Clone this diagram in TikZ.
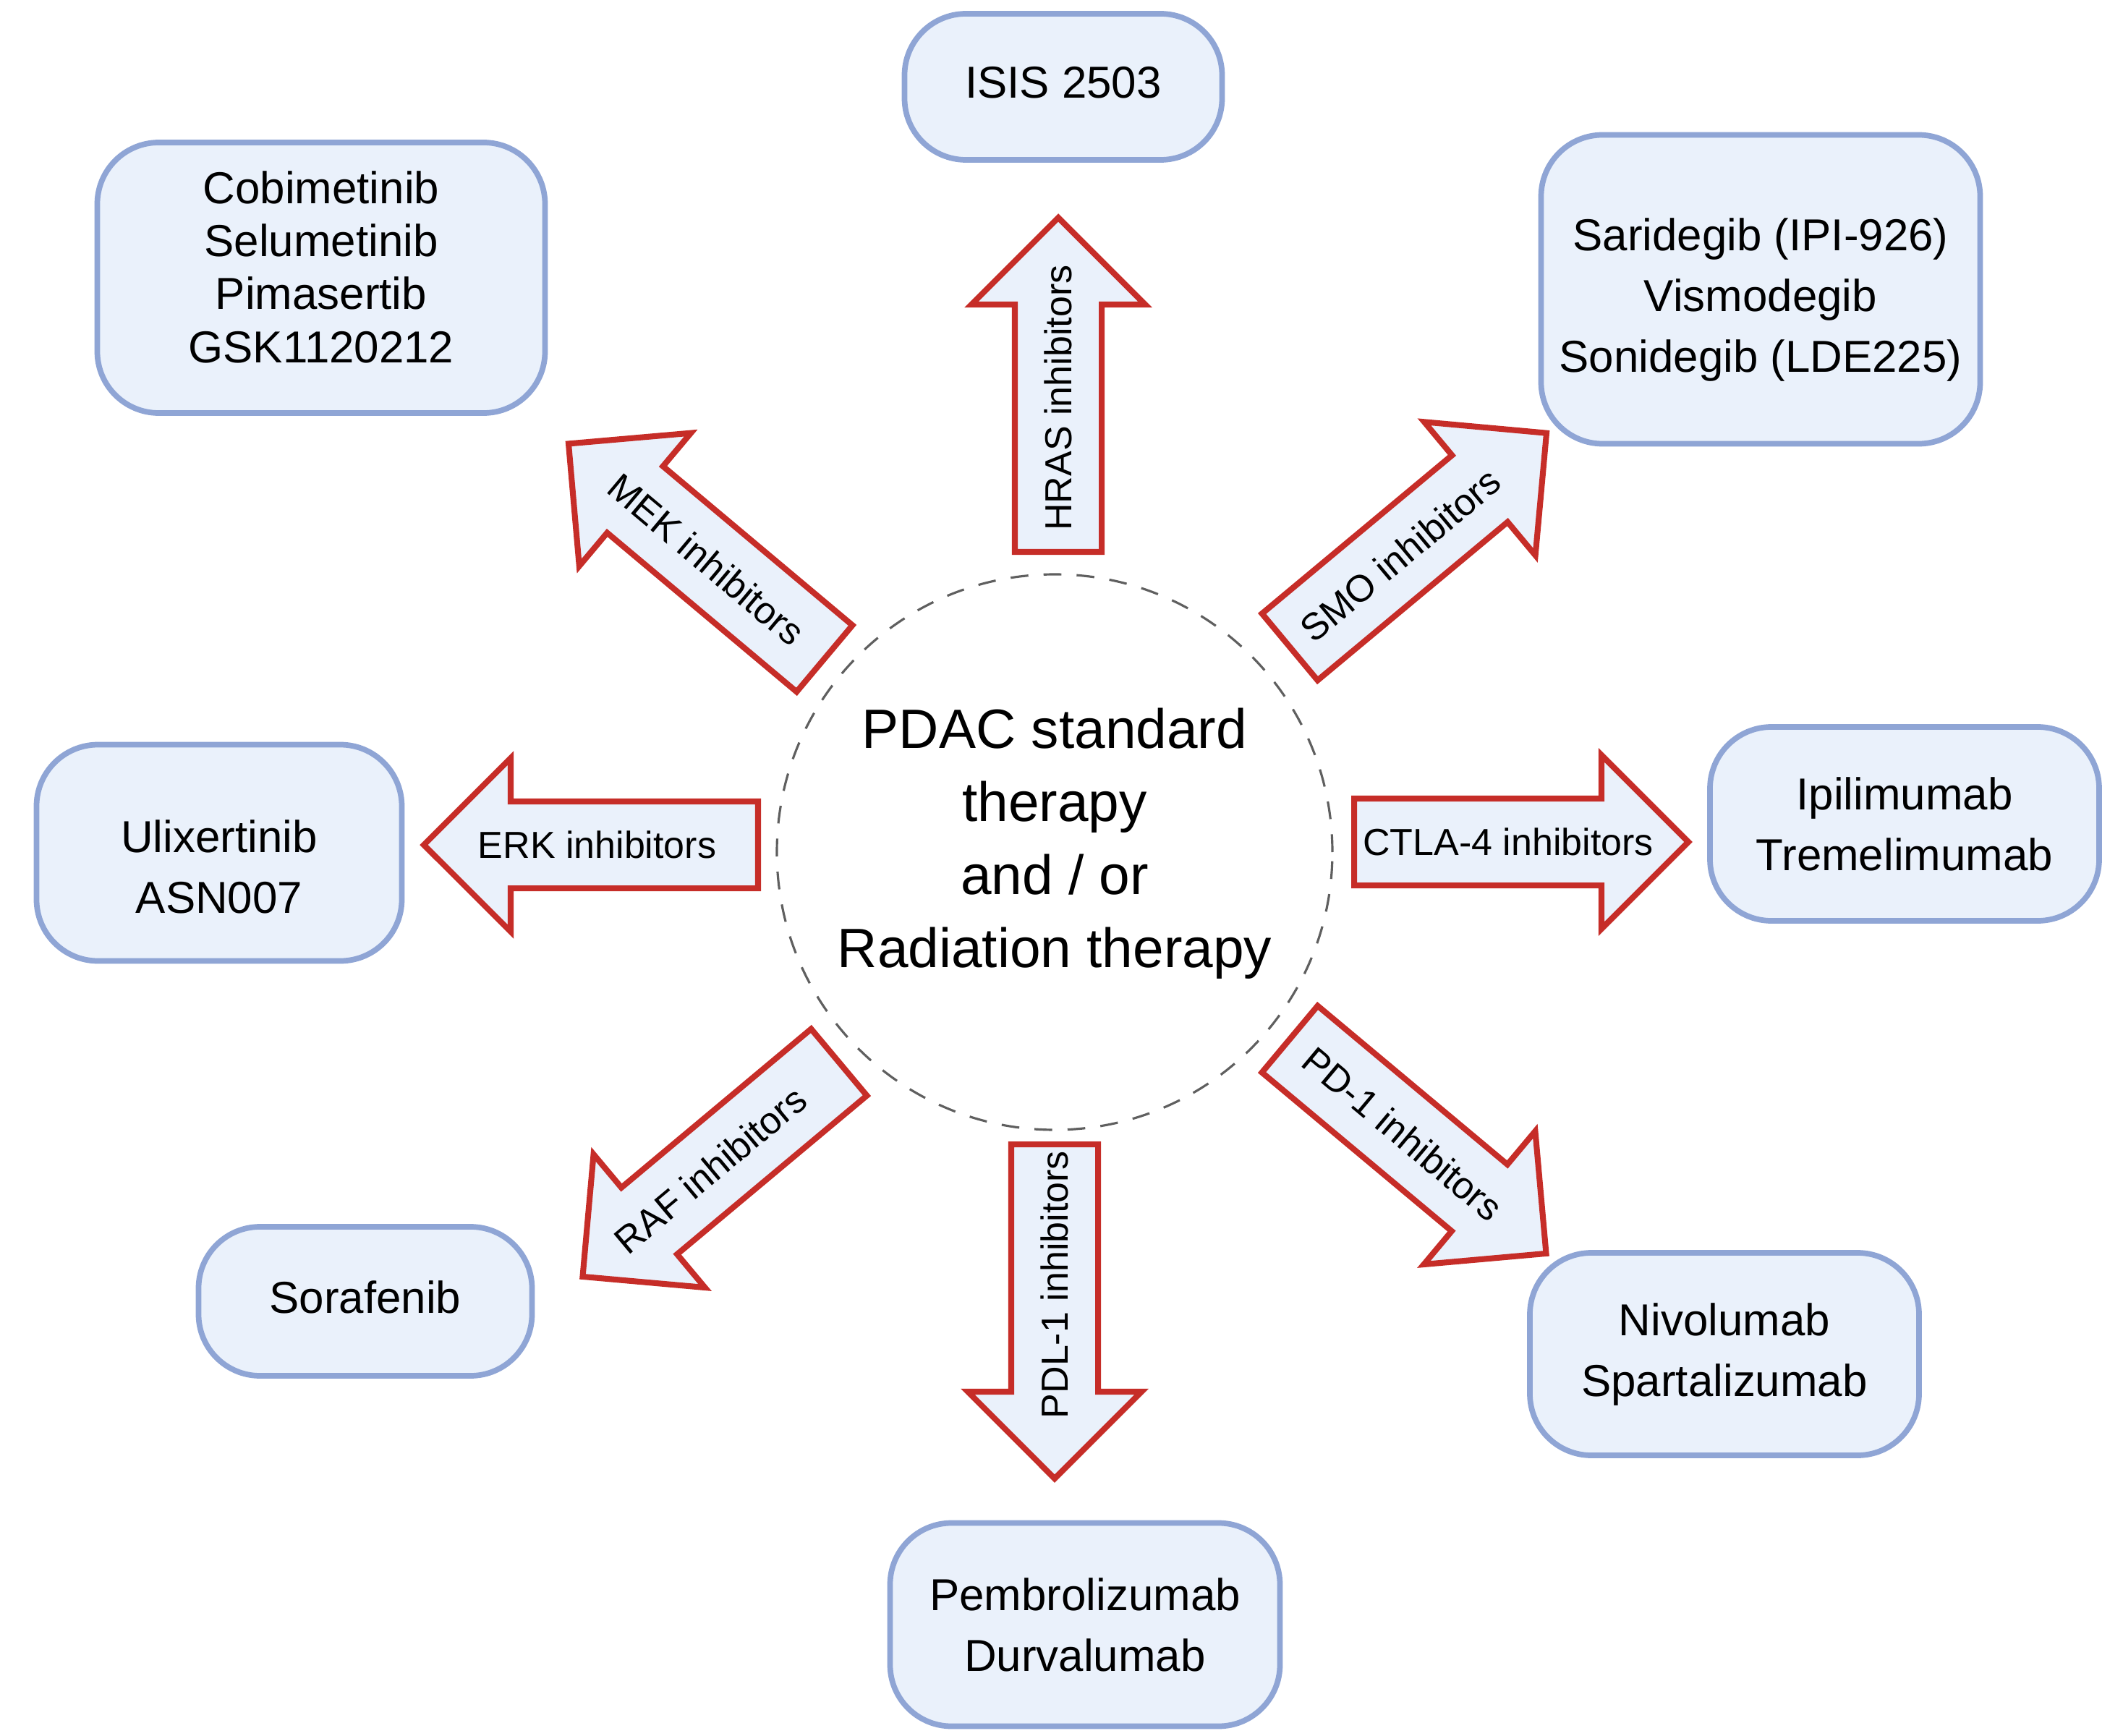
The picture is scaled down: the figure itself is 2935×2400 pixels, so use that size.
\documentclass[tikz,border=0pt]{standalone}
\usepackage{xcolor}
\usepackage{fontspec}
\setmainfont{Liberation Sans}
\usepackage{tikz}
\usetikzlibrary{shapes.arrows,calc}

\definecolor{boxline}{RGB}{143,165,213}
\definecolor{boxfill}{RGB}{234,241,251}
\definecolor{arrowred}{RGB}{198,45,40}
\definecolor{dashgray}{RGB}{95,95,95}

\begin{document}
\begin{tikzpicture}[x=0.1mm,y=0.1mm]
	\tikzstyle{every node}+=[inner sep=0pt]
	\tikzstyle{drugbox}=[draw=boxline, fill=boxfill, line width=2.2pt, rounded corners=0.85cm, align=center, font=\fontsize{17.6}{23.9}\selectfont]
	\tikzstyle{blockarrow}=[single arrow, draw=arrowred, fill=boxfill, line width=2.3pt, inner xsep=0pt, inner ysep=0.56cm, single arrow head extend=0.6cm, minimum height=4.62cm, anchor=tail]
	\tikzstyle{arrowtext}=[font=\fontsize{14.8}{17}\selectfont]
	\useasboundingbox (0,0) rectangle (2935,-2400);
	% centre
	\node [draw=dashgray, dash pattern=on 7pt off 6pt, line width=0.9pt, circle, minimum size=7.68cm, align=center, font=\fontsize{21.8}{28.7}\selectfont] (pdac) at (1458,-1178) {PDAC standard\\therapy\\and / or\\Radiation therapy\rule[-0.40cm]{0pt}{0pt}};
	% drug boxes
	\node [drugbox, minimum width=4.39cm, minimum height=2.02cm] (isis) at (1470,-120) {ISIS 2503\rule[-0.12cm]{0pt}{0pt}};
	\node [drugbox, minimum width=6.19cm, minimum height=3.74cm, font=\fontsize{17.6}{20.8}\selectfont] (mekdrugs) at (444,-384) {Cobimetinib\\Selumetinib\\Pimasertib\\GSK1120212\rule[-0.30cm]{0pt}{0pt}};
	\node [drugbox, minimum width=6.07cm, minimum height=4.27cm] (smodrugs) at (2434,-400) {\rule{0pt}{0.73cm}Saridegib (IPI-926)\\Vismodegib\\Sonidegib (LDE225)};
	\node [drugbox, minimum width=5.05cm, minimum height=2.99cm] (erkdrugs) at (303,-1179) {\rule{0pt}{0.83cm}Ulixertinib\\ASN007};
	\node [drugbox, minimum width=5.38cm, minimum height=2.68cm] (ctladrugs) at (2633,-1139) {Ipilimumab\\Tremelimumab};
	\node [drugbox, minimum width=4.61cm, minimum height=2.06cm] (rafdrugs) at (505,-1799) {Sorafenib\rule[-0.12cm]{0pt}{0pt}};
	\node [drugbox, minimum width=5.39cm, minimum height=2.81cm] (pdlonedrugs) at (1500,-2246) {Pembrolizumab\\Durvalumab};
	\node [drugbox, minimum width=5.38cm, minimum height=2.80cm] (pdonedrugs) at (2384,-1872) {Nivolumab\\Spartalizumab};
	% block arrows
	\node [blockarrow, rotate=90] (hras) at (1463,-767) {};
	\node [blockarrow, rotate=39.8] (smo) at (1780,-897) {};
	\node [blockarrow, rotate=0] (ctla) at (1868,-1164) {};
	\node [blockarrow, rotate=-39.9] (pdone) at (1780,-1434) {};
	\node [blockarrow, rotate=-90] (pdlone) at (1458,-1578) {};
	\node [blockarrow, rotate=219.9] (raf) at (1163,-1466) {};
	\node [blockarrow, rotate=180] (erk) at (1052,-1168) {};
	\node [blockarrow, rotate=140] (mek) at (1143,-913) {};
	% arrow labels
	\node [arrowtext, rotate=90] (hraslabel) at ($(hras.tail)!0.46!(hras.tip)$) {HRAS inhibitors};
	\node [arrowtext, rotate=39.8] (smolabel) at ($(smo.tail)!0.43!(smo.tip)$) {SMO inhibitors};
	\node [arrowtext] (ctlalabel) at ($(ctla.tail)!0.46!(ctla.tip)$) {CTLA-4 inhibitors};
	\node [arrowtext, rotate=-39.9] (pdonelabel) at ($(pdone.tail)!0.44!(pdone.tip)$) {PD-1 inhibitors};
	\node [arrowtext, rotate=90] (pdlonelabel) at ($(pdlone.tail)!0.42!(pdlone.tip)$) {PDL-1 inhibitors};
	\node [arrowtext, rotate=39.9] (raflabel) at ($(raf.tail)!0.5!(raf.tip)$) {RAF inhibitors};
	\node [arrowtext] (erklabel) at ($(erk.tail)!0.48!(erk.tip)$) {ERK inhibitors};
	\node [arrowtext, rotate=-40] (meklabel) at ($(mek.tail)!0.46!(mek.tip)$) {MEK inhibitors};
\end{tikzpicture}
\end{document}
